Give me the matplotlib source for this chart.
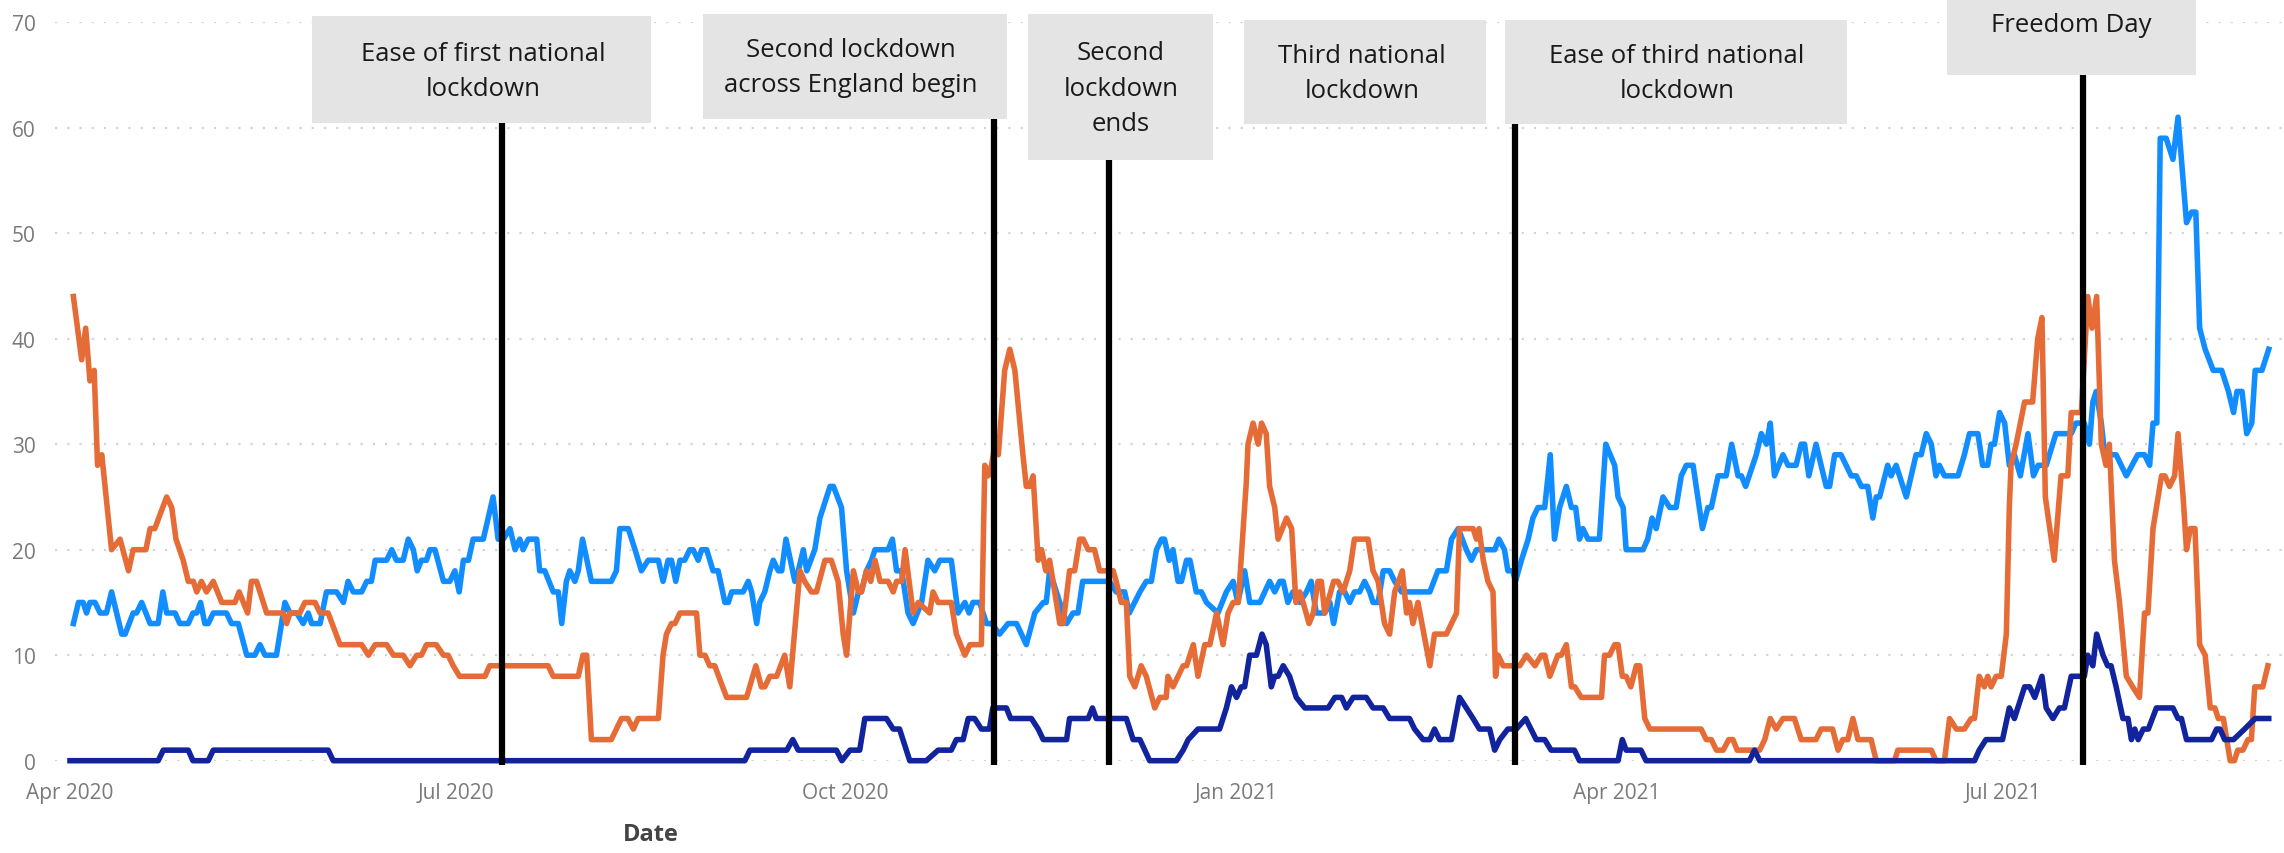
import datetime as dt
import matplotlib
matplotlib.use("Agg")
import matplotlib.pyplot as plt
import matplotlib.dates as mdates
from matplotlib.patches import Rectangle

plt.rcParams['font.family'] = ['Open Sans', 'DejaVu Sans']

START = dt.date(2020, 4, 1)

# ---- data (x = days since 1 Apr 2020) ----
blue_days = [0.8, 2, 3.1, 3.9, 4.7, 5.9, 7.1, 8.6, 9.8, 11, 12.2, 13, 14.9, 15.7, 16.9, 18.9,
             20.8, 21.9, 22.8, 24.8, 25.9, 27.9, 29, 29.9, 30.8, 31.8, 32.6, 33.8, 36.9, 38.1,
             39.7, 41.7, 43.6, 44.8, 46, 48.7, 50.7, 51.9, 53.5, 55, 56.2, 57, 59, 60.5, 62.9,
             64.5, 65.6, 66.8, 68.8, 70, 71.1, 72, 74.7, 75.9, 77, 78.6, 79.8, 81, 81.9, 82.9,
             84.1, 84.9, 86.1, 88.1, 89.6, 90.8, 91.8, 92.8, 94, 95.1, 97.5, 99.8, 101, 102.2,
             103.8, 105, 106.1, 106.9, 108.1, 110.1, 110.8, 112, 114, 115.2, 116, 117.1, 117.9,
             119.1, 119.9, 120.9, 123, 127.7, 128.9, 129.7, 131.7, 133.3, 134.8, 136.4, 138.8,
             139.9, 141.1, 141.9, 142.9, 143.9, 145, 146.2, 147, 148.2, 149, 150.2, 151.7, 152.9,
             154.5, 155.3, 156.1, 158.8, 160, 160.8, 162, 162.7, 163.9, 165.1, 165.9, 167.1,
             167.9, 168.9, 171, 171.8, 173, 173.8, 175.7, 176.9, 177.7, 179.3, 180.1, 182, 183.2,
             184.8, 186, 186.7, 187.9, 189.1, 189.9, 193, 194, 195, 196.2, 197.7, 198.9, 200.9,
             202.4, 204, 205.2, 207.9, 209.5, 211.1, 212.1, 213, 214.6, 216.2, 217.4, 219.3,
             221.3, 223.3, 225.6, 227.6, 229.6, 230.3, 231.1, 235.1, 236.6, 237.8, 238.9, 245.2,
             246.8, 248.8, 249.9, 252.4, 253.9, 255.1, 256.3, 257.5, 258.2, 259.3, 260.2, 261.4,
             262.2, 263.4, 264.2, 265.7, 266.9, 268.1, 270.8, 272.8, 274.4, 275.5, 277.1, 278.3,
             280.7, 283, 284.2, 285.4, 286.2, 287.3, 288.5, 290.1, 291.7, 292.8, 294, 296, 297.2,
             298.1, 299.5, 300.7, 301.9, 303, 304.2, 305.4, 306.6, 307.4, 308.6, 309.8, 311.3,
             312.5, 314.1, 320.8, 322.7, 324.7, 325.9, 327.5, 329.4, 330.6, 331.8, 336.1, 337.1,
             338.4, 339.2, 340.4, 341, 342.4, 344, 345.1, 346.3, 347.9, 349.2, 350.2, 351.4, 353,
             354.2, 355.2, 356.1, 356.9, 358.1, 360.8, 362.3, 364.4, 365.2, 366.4, 367.1, 371.1,
             372.2, 373.2, 374.2, 375.8, 377.4, 378.9, 380.1, 381.3, 382.9, 384, 385.1, 386.4,
             387.2, 388.8, 390.7, 392, 393.5, 394.3, 395.3, 397.8, 399, 400.2, 401.1, 402.1,
             404.1, 405.3, 407.2, 408.4, 409.2, 410.2, 411.9, 414.3, 415.1, 416.3, 417.8, 420.2,
             421.4, 422.6, 424.1, 425.3, 426.1, 426.9, 428.8, 429.6, 430.8, 433.2, 435.5, 436.7,
             437.9, 439.1, 440.2, 441, 442.2, 445.4, 446.9, 448.1, 450.1, 451.2, 452.4, 453.2, 454,
             455.2, 456.4, 457.5, 458.7, 460.1, 461.9, 463.2, 464.3, 466.2, 468.5, 472.1, 473.2,
             475.2, 476.4, 477.2, 478, 479.2, 480, 482.7, 483.9, 485.1, 487.8, 489.4, 490.6,
             491.4, 492.3, 493.1, 494.5, 496.1, 497.3, 499.3, 500.5, 501.5, 502.4, 503.7, 505.6,
             507.6, 509.2, 510.4, 511.2, 512.4, 513.5, 514.7, 515.5, 517.1, 518.7]
blue_vals = [13, 15, 15, 14, 15, 15, 14, 14, 16, 14, 12, 12, 14, 14, 15, 13,
             13, 16, 14, 14, 13, 13, 14, 14, 15, 13, 13, 14, 14, 13,
             13, 10, 10, 11, 10, 10, 15, 14, 14, 13, 14, 13, 13, 16, 16,
             15, 17, 16, 16, 17, 17, 19, 19, 20, 19, 19, 21, 20, 18, 19,
             19, 20, 20, 17, 17, 18, 16, 19, 19, 21, 21, 25, 21, 21,
             22, 20, 21, 20, 21, 21, 18, 18, 16, 16, 13, 17, 18,
             17, 18, 21, 17, 17, 18, 22, 22, 20, 18, 19, 19,
             17, 19, 19, 17, 19, 19, 20, 20, 19, 20, 20, 18, 18,
             15, 15, 16, 16, 17, 16, 13, 15, 16, 18, 19, 18,
             18, 21, 17, 18, 20, 18, 20, 23, 24, 26, 26, 24, 18,
             14, 16, 16, 18, 19, 20, 20, 21, 18, 18, 14, 13, 15,
             19, 18, 19, 19, 14, 15, 14, 15, 15, 13, 13, 12,
             13, 13, 11, 14, 15, 15, 18, 13, 14, 14, 17, 17,
             16, 16, 14, 16, 17, 17, 20, 21, 21, 19, 20, 17,
             17, 19, 19, 16, 16, 15, 14, 16, 17, 15, 18, 15,
             15, 17, 16, 17, 17, 15, 16, 15, 16, 17, 14, 14, 15,
             13, 16, 16, 15, 16, 16, 17, 16, 15, 15, 18, 18,
             17, 16, 16, 18, 18, 21, 22, 20, 19, 20, 20, 21,
             20, 18, 18, 17, 19, 21, 23, 24, 24, 29, 21, 24, 26,
             24, 24, 21, 22, 21, 21, 30, 28, 25, 24, 20, 20,
             21, 23, 22, 25, 24, 24, 27, 28, 28, 25, 22, 24,
             24, 27, 27, 30, 27, 27, 26, 29, 31, 30, 32, 27,
             29, 28, 28, 30, 30, 27, 30, 26, 26, 29, 29, 27,
             27, 26, 26, 23, 25, 25, 28, 27, 28, 25, 29, 29,
             31, 30, 27, 28, 27, 27, 29, 31, 31, 28, 28, 30, 30,
             33, 32, 28, 29, 27, 31, 27, 28, 28, 31, 31, 32,
             32, 30, 34, 35, 32, 29, 29, 28, 27, 29, 29, 28,
             32, 32, 59, 59, 57, 61, 51, 52, 52, 41, 39, 37,
             37, 35, 33, 35, 35, 31, 32, 37, 37, 39]

orange_days = [0.8, 2.75, 3.7, 4.7, 5.7, 6.5, 7.5, 9.8, 11.8, 13.8, 14.9, 17.9, 18.9, 20, 22.8,
               24, 25, 26.7, 27.9, 29.1, 29.9, 31, 32.2, 33.8, 35.8, 38.9, 39.9, 41.9, 42.8, 44,
               46.4, 50.3, 51.1, 51.9, 54.2, 55.4, 57.8, 59, 60.9, 63.7, 68.8, 70.4, 72, 74.7,
               76.3, 78.6, 80.2, 81.8, 82.9, 84.1, 86.4, 88.1, 89.2, 90.4, 91.9, 97.9, 99, 112.8,
               114, 119.9, 121, 121.9, 123, 127.7, 130.1, 131.6, 132.9, 134, 138.8, 139.9, 140.7,
               141.9, 142.7, 143.9, 147.8, 148.6, 149.8, 150.9, 152.1, 154.9, 159.6, 161.8, 163.1,
               163.9, 165.1, 166.7, 168.6, 169.8, 172.2, 173.3, 174.9, 176.1, 178.1, 179.6, 181.2,
               182.4, 183.2, 184.8, 186, 186.7, 187.9, 188.9, 189.9, 191.1, 193, 194.2, 195,
               196.2, 197, 198.9, 200.1, 202.8, 203.6, 204.8, 207.9, 209.1, 211.1, 212.3, 215,
               215.8, 216.6, 217.4, 218.2, 219, 220.5, 221.7, 222.9, 224.8, 225.6, 226.4, 227.2,
               228.4, 229.2, 230.2, 231.1, 233.5, 234.3, 235.8, 237, 238.2, 239, 240.2, 241.7,
               242.9, 246.1, 246.8, 248, 249.2, 250, 251.2, 252.7, 253.9, 255.9, 257.1, 258.6, 259,
               260.2, 261.4, 262.6, 263.4, 265, 266.1, 267.7, 268.9, 270.5, 272, 273.2, 274.4,
               275.6, 276.7, 277.5, 277.9, 279.1, 280.3, 281.1, 282.2, 283, 284.2, 285, 287, 288.2,
               289.2, 290.1, 290.9, 292.3, 293.3, 294.4, 295.2, 296, 298.1, 299.1, 300.3, 301.9,
               303, 306.2, 307.4, 308.6, 310.1, 311.3, 312.5, 314.3, 315.3, 316, 316.8, 318, 320.8,
               321.9, 324.7, 327.1, 327.8, 331, 331.8, 332.4, 333.4, 334.5, 335.7, 336.3, 336.9,
               338.1, 342, 343.6, 345.6, 347.1, 347.9, 349.1, 351, 351.8, 353, 354.2, 355, 356.5,
               361.3, 362, 363.2, 364.4, 365.2, 366.2, 367.1, 368.2, 369.5, 370.3, 371.5, 372.7,
               384.8, 386, 387.2, 388.4, 390, 391.3, 392.3, 393.3, 398.6, 399.8, 401.1, 402.5,
               404.1, 406.8, 408.4, 411.9, 413.1, 415.8, 417.1, 418.2, 419.4, 420.6, 421.8, 424.9,
               426.1, 430.4, 431.2, 439.1, 440.2, 442.2, 443.4, 445, 446.9, 448.5, 449.3, 450.4,
               451.6, 452.4, 453.2, 454.4, 455.6, 456.8, 457.5, 457.9, 459.1, 461.1, 463, 464.2,
               465.2, 466, 468.1, 469.7, 471.3, 472.1, 474.5, 476, 477, 478.1, 479.2, 480.3, 481.1,
               482.3, 483.5, 485.1, 486.6, 488.2, 489.4, 490.2, 491.4, 493.4, 494.2, 495.3, 496.5,
               497.3, 498.5, 499.3, 500.2, 501.3, 502.4, 503.7, 504.9, 506, 506.8, 508, 509.6,
               510.6, 511.4, 512.6, 513.8, 514.6, 515.4, 517.3, 518.5]
orange_vals = [44, 38, 41, 36, 37, 28, 29, 20, 21, 18, 20, 20, 22, 22, 25,
               24, 21, 19, 17, 17, 16, 17, 16, 17, 15, 15, 16, 14, 17, 17,
               14, 14, 13, 14, 14, 15, 15, 14, 14, 11, 11, 10, 11, 11,
               10, 10, 9, 10, 10, 11, 11, 10, 10, 9, 8, 8, 9, 9,
               8, 8, 10, 10, 2, 2, 4, 4, 3, 4, 4, 10, 12,
               13, 13, 14, 14, 10, 10, 9, 9, 6, 6, 9, 7,
               7, 8, 8, 10, 7, 18, 17, 16, 16, 19, 19, 17,
               12, 10, 18, 16, 16, 18, 17, 19, 17, 17, 16, 17,
               17, 20, 14, 15, 14, 16, 15, 15, 12, 10, 11, 11,
               28, 27, 28, 30, 29, 37, 39, 37, 29, 26, 26, 27,
               19, 20, 18, 19, 13, 13, 18, 18, 21, 21, 20, 20,
               18, 18, 17, 15, 15, 8, 7, 9, 8, 5, 6, 6, 8,
               7, 8, 9, 9, 11, 8, 11, 11, 14, 11, 14, 15,
               15, 21.6, 26.4, 30, 32, 30, 32, 31, 26, 24, 21, 23, 22,
               15, 16, 15, 13, 14, 17, 17, 14, 17, 17, 16, 18,
               21, 21, 18, 17, 13, 12, 16, 18, 14, 15, 13, 15, 9,
               12, 12, 14, 22, 22, 21, 22, 19, 17, 16, 8, 10,
               9, 9, 10, 9, 10, 10, 8, 10, 10, 11, 7, 7, 6,
               6, 10, 10, 11, 11, 8, 8, 7, 9, 9, 4, 3,
               3, 2, 2, 1, 1, 2, 2, 1, 1, 2, 4, 3,
               4, 4, 2, 2, 3, 3, 1, 2, 2, 4, 2, 2,
               0, 0, 1, 1, 0, 0, 4, 3, 3, 4, 4, 8,
               7, 8, 7, 8, 8, 12, 24, 28, 30, 34, 34, 40,
               42, 25, 19, 27, 27, 33, 33, 44, 41, 44, 30, 28, 30,
               19, 15, 8, 7, 6, 14, 14, 22, 27, 27, 26, 27,
               31, 25, 20, 22, 22, 11, 10, 5, 5, 4, 4, 0,
               0, 1, 1, 2, 2, 7, 7, 9]

navy_days = [0, 20.8, 22, 27.9, 29, 32.6, 33.8, 60.9, 62.1, 159.2, 160.4, 169.1, 170.5, 171.8,
             180.8, 182.1, 184, 186.3, 187.5, 192.6, 194.2, 195.7, 198.1, 202, 204.8, 207.9,
             209.1, 210.7, 211.9, 213.4, 215, 216.9, 217.7, 220.9, 221.9, 226.8, 228.4, 229.6,
             235.1, 235.8, 240.2, 241.2, 242.1, 249.2, 250.8, 252.4, 254.7, 261, 262.6, 263.8,
             266.1, 271.2, 272.8, 274, 275.2, 276.3, 277.1, 278.3, 279.9, 281.2, 282.2, 283.4,
             284.2, 285, 286.2, 287.7, 289.3, 291.3, 296.8, 298.4, 300, 301.1, 302.7, 305.8,
             307.4, 309.8, 311.3, 316, 317.2, 319.2, 320.8, 321.9, 323.1, 325.9, 327.8, 329.4,
             331, 332.5, 334.9, 336.1, 337.3, 339.2, 341.2, 343.4, 345.9, 347.9, 349.4, 354.9,
             356.1, 365.2, 366.2, 367.1, 370.6, 371.8, 396.2, 397.4, 398.6, 449.3, 450.4, 452,
             455.9, 457.5, 458.7, 461.1, 462.3, 463.5, 465.2, 466.2, 467.8, 469.3, 470.5, 472.1,
             475.2, 476, 477.2, 478.1, 479.6, 480.7, 481.5, 482.7, 484.3, 485.5, 486.3, 487.1,
             487.9, 489.1, 490.3, 492.2, 496.1, 497.3, 498.1, 499.3, 505.2, 506.4, 507.2, 508.3,
             510.4, 513, 515.5, 518.7]
navy_vals = [0, 0, 1, 1, 0, 0, 1, 1, 0, 0, 1, 1, 2, 1,
             1, 0, 1, 1, 4, 4, 3, 3, 0, 0, 1, 1,
             2, 2, 4, 4, 3, 3, 5, 5, 4, 4, 3, 2,
             2, 4, 4, 5, 4, 4, 2, 2, 0, 0, 1, 2,
             3, 3, 5, 7, 6, 7, 7, 10, 10, 12, 11, 7,
             8, 8, 9, 8, 6, 5, 5, 6, 6, 5, 6, 6,
             5, 5, 4, 4, 3, 2, 2, 3, 2, 2, 6, 5,
             4, 3, 3, 1, 2, 3, 3, 4, 2, 2, 1, 1,
             0, 0, 2, 1, 1, 0, 0, 1, 0, 0, 1, 2,
             2, 5, 4, 7, 7, 6, 8, 5, 4, 5, 5, 8,
             8, 10, 9, 12, 10, 9, 9, 7, 4, 4, 2, 3,
             2, 3, 3, 5, 5, 4, 4, 2, 2, 3, 3, 2,
             2, 3, 4, 4]

event_labels = ["Ease of first national\nlockdown",
                "Second lockdown\nacross England begin",
                "Second\nlockdown\nends",
                "Third national\nlockdown",
                "Ease of third national\nlockdown",
                "Freedom Day"]
event_dates = ["2020-07-12", "2020-11-05", "2020-12-02", None, "2021-03-08", "2021-07-20"]

tick_dates = ["2020-04-01", "2020-07-01", "2020-10-01", "2021-01-01", "2021-04-01", "2021-07-01"]
tick_labels = ["Apr 2020", "Jul 2020", "Oct 2020", "Jan 2021", "Apr 2021", "Jul 2021"]
y_ticks = [0, 10, 20, 30, 40, 50, 60, 70]

# ---- layout (pixels of the 2284x854 picture) ----
W, H = 2284, 854
# box x0, y0, x1, y1, text x, text y
boxes = [(312, 17, 651, 124, 483, 72),
         (703, 15, 1007, 120, 851, 68),
         (1028, 15, 1213, 161, 1121, 89),
         (1244, 21, 1486, 125, 1362, 74),
         (1505, 21, 1847, 125, 1677, 74),
         (1947, -5, 2196, 76, 2071, 25)]

base = mdates.date2num(START)


def to_x(days):
    return [base + d for d in days]


def px(y):
    # pixel row -> data value
    return (761.7 - y) / 10.55


fig = plt.figure(figsize=(W / 100, H / 100), dpi=100)
ax = fig.add_axes([55 / W, 1 - 761.7 / H, (W - 55) / W, 738.5 / H])
ax.set_xlim(base - 3.54, base + 522.3)
ax.set_ylim(0, 70)

lw = 4.0
ax.plot(to_x(blue_days), blue_vals, color='#118DFF', lw=lw, solid_joinstyle='round', clip_on=False, zorder=3)
ax.plot(to_x(orange_days), orange_vals, color='#E66C37', lw=lw, solid_joinstyle='round', clip_on=False, zorder=4)
ax.plot(to_x(navy_days), navy_vals, color='#12239E', lw=lw, solid_joinstyle='round', clip_on=False, zorder=5)

for lab, d, b in zip(event_labels, event_dates, boxes):
    x0, y0, x1, y1, tx, ty = b
    fig.patches.append(Rectangle((x0 / W, 1 - y1 / H), (x1 - x0) / W, (y1 - y0) / H,
                                 transform=fig.transFigure, facecolor='#e4e4e4',
                                 edgecolor='none', zorder=2))
    fig.text(tx / W, 1 - ty / H, lab, ha='center', va='center', fontsize=18.5,
             color='#1a1a1a', linespacing=1.55, zorder=3)
    if d is not None:
        xd = mdates.date2num(dt.date.fromisoformat(d))
        ax.plot([xd, xd], [-0.4, px(y1)], color='black', lw=4.5, clip_on=False,
                solid_capstyle='butt', zorder=6)

ax.set_yticks(y_ticks)
ax.set_xticks([mdates.date2num(dt.date.fromisoformat(t)) for t in tick_dates])
ax.set_xticklabels(tick_labels)
ax.tick_params(axis='y', length=0, pad=14, labelsize=15, labelcolor='#7a7a7a')
ax.tick_params(axis='x', length=0, pad=15, labelsize=15, labelcolor='#7a7a7a')
ax.yaxis.grid(True, linestyle=(0, (1, 4.5)), linewidth=1.6, color='#d4d4d4')
ax.xaxis.grid(False)
ax.set_axisbelow(True)
for s in ax.spines.values():
    s.set_visible(False)

fig.text(651 / W, 1 - 835 / H, "Date", ha='center', va='center', fontsize=17,
         fontweight='bold', color='#444444')

fig.savefig("out.png", dpi=100)
